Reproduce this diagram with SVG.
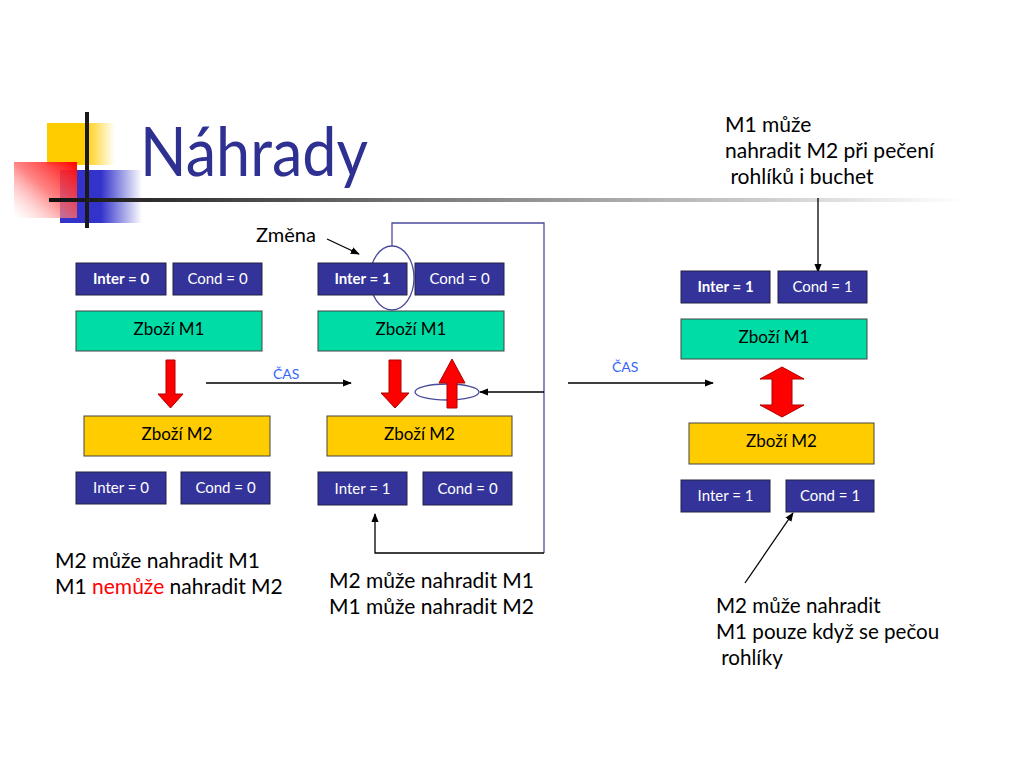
<svg xmlns="http://www.w3.org/2000/svg" width="1024" height="768" viewBox="0 0 1024 768">
<defs>
<linearGradient id="gY" x1="0" y1="0" x2="1" y2="0"><stop offset="0" stop-color="#FFCC00"/><stop offset="0.55" stop-color="#FFCC00"/><stop offset="1" stop-color="#FFCC00" stop-opacity="0"/></linearGradient>
<linearGradient id="gB" x1="0" y1="0" x2="1" y2="0"><stop offset="0" stop-color="#3333CC"/><stop offset="0.5" stop-color="#3333CC"/><stop offset="1" stop-color="#3333CC" stop-opacity="0"/></linearGradient>
<linearGradient id="gR" x1="1" y1="0" x2="0" y2="1"><stop offset="0" stop-color="#FF0000"/><stop offset="0.5" stop-color="#FF6666" stop-opacity="0.8"/><stop offset="1" stop-color="#FFFFFF" stop-opacity="0.3"/></linearGradient>
<linearGradient id="gL" x1="0" y1="0" x2="1" y2="0"><stop offset="0" stop-color="#111111"/><stop offset="0.4" stop-color="#777777"/><stop offset="1" stop-color="#FFFFFF"/></linearGradient>
<marker id="ah" viewBox="0 0 10 10" refX="9" refY="5" markerWidth="7" markerHeight="7" orient="auto-start-reverse"><path d="M0,1 L10,5 L0,9 z" fill="#000"/></marker>
</defs>
<style>
text{font-family:Lato,"Liberation Sans",sans-serif;}
.tag{fill:#333399;stroke:#222244;stroke-width:1;}
.tl{fill:#fff;font-size:15px;text-anchor:middle;}
.b{font-weight:bold;}
.m1{fill:#00DCA6;stroke:#444;stroke-width:1;}
.m2{fill:#FFCC00;stroke:#444;stroke-width:1;}
.gl{fill:#000;font-size:17px;text-anchor:middle;}
.red{fill:#FF0000;stroke:#B00000;stroke-width:1;}
.note{fill:#000;font-size:21px;}
.cas{fill:#3366FF;font-size:14px;}
.ln{fill:none;stroke:#000;stroke-width:1.3;}
.lp{fill:none;stroke:#4B4B9B;stroke-width:1.3;}
</style>
<rect width="1024" height="768" fill="#fff"/>
<g id="decor">
<rect x="47" y="123" width="68" height="42" fill="url(#gY)"/>
<rect x="60" y="170" width="82" height="53" fill="url(#gB)"/>
<rect x="14" y="162" width="63" height="56" fill="url(#gR)"/>
<rect x="85" y="112" width="4" height="116" fill="#1a1a1a"/>
<rect x="49" y="198" width="915" height="4" fill="url(#gL)"/>
</g>
<text id="title" x="140" y="176" textLength="228" lengthAdjust="spacingAndGlyphs" style="font-size:68px;fill:#2E3192;">Náhrady</text>

<g id="connectors">
<line class="ln" x1="206" y1="383" x2="351" y2="383" marker-end="url(#ah)"/>
<line class="ln" x1="568" y1="383" x2="713" y2="383" marker-end="url(#ah)"/>
<line class="ln" x1="327" y1="239" x2="359" y2="254" marker-end="url(#ah)"/>
<polyline class="lp" points="392,246 392,223 544,223 544,553"/>
<polyline class="ln" points="544,553 375,553 375,514" marker-end="url(#ah)"/>
<line class="ln" x1="544" y1="392" x2="480" y2="392" marker-end="url(#ah)"/>
<line class="ln" x1="818" y1="198" x2="818" y2="272" marker-end="url(#ah)"/>
<line class="ln" x1="745" y1="583" x2="793" y2="513" marker-end="url(#ah)"/>
<ellipse cx="392" cy="278" rx="22" ry="32" fill="none" stroke="#4B4B9B" stroke-width="1.3"/>
<ellipse cx="447" cy="392" rx="32" ry="8" fill="none" stroke="#4B4B9B" stroke-width="1.3"/>
</g>

<g id="col1">
<g id="c1-inter"><rect class="tag" x="76" y="263" width="90" height="32"/><text class="tl b" x="121" y="284">Inter = 0</text></g>
<g id="c1-cond"><rect class="tag" x="173" y="263" width="89" height="32"/><text class="tl" x="217.5" y="284">Cond = 0</text></g>
<g id="c1-m1"><rect class="m1" x="76" y="311" width="186" height="40"/><text class="gl" x="169" y="335">Zboží M1</text></g>
<polygon id="c1-arrow" class="red" points="166,360 175,360 175,394 183,394 170.5,408 158,394 166,394"/>
<g id="c1-m2"><rect class="m2" x="84" y="416" width="186" height="40"/><text class="gl" x="177" y="440">Zboží M2</text></g>
<g id="c1-inter2"><rect class="tag" x="76" y="472" width="90" height="32"/><text class="tl" x="121" y="493">Inter = 0</text></g>
<g id="c1-cond2"><rect class="tag" x="181" y="472" width="89" height="32"/><text class="tl" x="225.5" y="493">Cond = 0</text></g>
</g>

<g id="col2">
<g id="c2-inter"><rect class="tag" x="318" y="263" width="89" height="32"/><text class="tl b" x="362.5" y="284">Inter = 1</text></g>
<g id="c2-cond"><rect class="tag" x="415" y="263" width="89" height="32"/><text class="tl" x="459.5" y="284">Cond = 0</text></g>
<g id="c2-m1"><rect class="m1" x="318" y="311" width="186" height="40"/><text class="gl" x="411" y="335">Zboží M1</text></g>
<polygon id="c2-down" class="red" points="389,360 401,360 401,393 409,393 395,408 381,393 389,393"/>
<polygon id="c2-up" class="red" points="447,408 457,408 457,383 465,383 452,359 439,383 447,383"/>
<g id="c2-m2"><rect class="m2" x="327" y="416" width="185" height="40"/><text class="gl" x="419.5" y="440">Zboží M2</text></g>
<g id="c2-inter2"><rect class="tag" x="318" y="472" width="89" height="33"/><text class="tl" x="362.5" y="494">Inter = 1</text></g>
<g id="c2-cond2"><rect class="tag" x="423" y="472" width="89" height="33"/><text class="tl" x="467.5" y="494">Cond = 0</text></g>
</g>

<g id="col3">
<g id="c3-inter"><rect class="tag" x="681" y="271" width="89" height="32"/><text class="tl b" x="725.5" y="292">Inter = 1</text></g>
<g id="c3-cond"><rect class="tag" x="778" y="271" width="89" height="32"/><text class="tl" x="822.5" y="292">Cond = 1</text></g>
<g id="c3-m1"><rect class="m1" x="681" y="319" width="186" height="40"/><text class="gl" x="774" y="343">Zboží M1</text></g>
<polygon id="c3-both" class="red" points="782,367 804,379 792,379 792,405 804,405 782,417 760,405 772,405 772,379 760,379"/>
<g id="c3-m2"><rect class="m2" x="689" y="423" width="185" height="41"/><text class="gl" x="781.5" y="447">Zboží M2</text></g>
<g id="c3-inter2"><rect class="tag" x="681" y="480" width="89" height="32"/><text class="tl" x="725.5" y="501">Inter = 1</text></g>
<g id="c3-cond2"><rect class="tag" x="786" y="480" width="88" height="32"/><text class="tl" x="830" y="501">Cond = 1</text></g>
</g>

<g id="labels">
<text class="note" x="256" y="242" style="font-size:20px">Změna</text>
<text class="cas" x="273" y="379">ČAS</text>
<text class="cas" x="612" y="372">ČAS</text>
<text class="note" x="55" y="568">M2 může nahradit M1</text>
<text class="note" x="55" y="594">M1 <tspan fill="#FF0000">nemůže</tspan> nahradit M2</text>
<text class="note" x="329" y="588">M2 může nahradit M1</text>
<text class="note" x="329" y="614">M1 může nahradit M2</text>
<text class="note" x="725" y="132">M1 může</text>
<text class="note" x="725" y="158">nahradit M2 při pečení</text>
<text class="note" x="725" y="184" xml:space="preserve"> rohlíků i buchet</text>
<text class="note" x="716" y="613" style="font-size:20.6px">M2 může nahradit</text>
<text class="note" x="716" y="639" style="font-size:20.6px">M1 pouze když se pečou</text>
<text class="note" x="716" y="665" style="font-size:20.6px" xml:space="preserve"> rohlíky</text>
</g>
</svg>
